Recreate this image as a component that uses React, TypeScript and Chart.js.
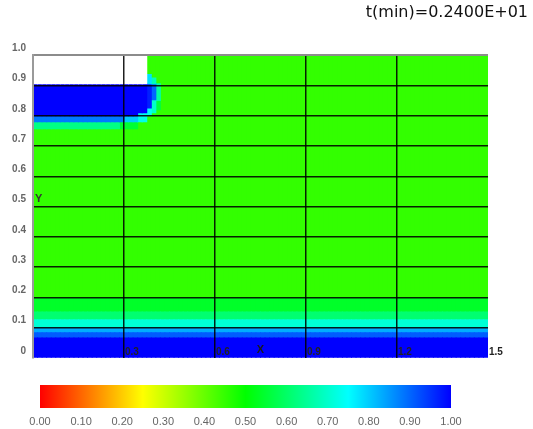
import React, { useEffect, useRef } from 'react';
import { Chart, registerables } from 'chart.js';

Chart.register(...registerables);

// ---------- text ----------
const timeTitle = 't(min)=0.2400E+01';
const xAxisTitle = 'X';
const yAxisTitle = 'Y';
const yAxisTitleValue = 0.5;

// ---------- axes ----------
const xMax = 1.5;
const xTickValues = [0, 0.3, 0.6, 0.9, 1.2, 1.5];
const xTickLabels = ['', '0.3', '0.6', '0.9', '1.2', '1.5'];
const yTickValues = [0, 0.1, 0.2, 0.3, 0.4, 0.5, 0.6, 0.7, 0.8, 0.9, 1.0];
const yTickLabels = ['0', '0.1', '0.2', '0.3', '0.4', '0.5', '0.6', '0.7', '0.8', '0.9', '1.0'];
const colorbarTickValues = [0, 0.1, 0.2, 0.3, 0.4, 0.5, 0.6, 0.7, 0.8, 0.9, 1.0];
const colorbarTickLabels = ['0.00', '0.10', '0.20', '0.30', '0.40', '0.50', '0.60', '0.70', '0.80', '0.90', '1.00'];
const colorbarStops = [0, 0.25, 0.5, 0.75, 1];

// ---------- field (fluid fraction) ----------
const columnCount = 100; // field columns across 0..xMax

// horizontal layers spanning the full width
const bandBottom = [0, 0.066, 0.083, 0.099, 0.126, 0.152, 0.198];
const bandTop = [0.066, 0.083, 0.099, 0.126, 0.152, 0.198, 1.0];
const bandValue = [1.0, 0.91, 0.83, 0.71, 0.61, 0.54, 0.45];

// local patches near the top-left (null = empty / white)
const patchX0 = [0, 0, 0.345, 0, 0.3, 0.345, 0, 0.285, 0.375, 0.39, 0.375, 0.375, 0.39, 0.39, 0.405, 0.405];
const patchX1 = [0.375, 0.345, 0.375, 0.3, 0.345, 0.375, 0.285, 0.345, 0.39, 0.405, 0.39, 0.39, 0.405, 0.405, 0.42, 0.42];
const patchY0 = [0.906, 0.8, 0.81, 0.78, 0.78, 0.78, 0.757, 0.757, 0.906, 0.906, 0.826, 0.8, 0.853, 0.81, 0.85, 0.82];
const patchY1 = [1.0, 0.906, 0.906, 0.8, 0.8, 0.81, 0.78, 0.78, 0.936, 0.925, 0.906, 0.826, 0.906, 0.853, 0.906, 0.85];
const patchValue: (number | null)[] = [null, 1.0, 1.0, 0.88, 0.8, 0.73, 0.63, 0.55, 0.78, 0.68, 0.97, 0.74, 0.9, 0.7, 0.66, 0.56];

const FONT = 'Liberation Sans, Arial, sans-serif';

function colorFor(v: number | null): string {
  if (v === null) return '#ffffff';
  return `hsl(${(240 * v).toFixed(1)}, 100%, 50%)`;
}

const near = (a: number | undefined, b: number) => a !== undefined && Math.abs(a - b) < 1e-6;

export default function App() {
  const mainRef = useRef<HTMLCanvasElement>(null);
  const barRef = useRef<HTMLCanvasElement>(null);

  useEffect(() => {
    if (!mainRef.current || !barRef.current) return;
    const colW = xMax / columnCount;
    const labels = Array.from({ length: columnCount }, (_, i) => String(i));
    const columnData = (x0: number, x1: number, y0: number, y1: number) =>
      labels.map((_, i) => {
        const a = i * colW;
        const b = (i + 1) * colW;
        return a >= x0 - 1e-9 && b <= x1 + 1e-9 ? [y0, y1] : null;
      });
    const common = {
      xAxisID: 'xc',
      yAxisID: 'y',
      barPercentage: 1,
      categoryPercentage: 1,
      grouped: false,
      borderWidth: 0,
      inflateAmount: 0.5,
    };
    const datasets: any[] = [];
    patchValue.forEach((v, k) => {
      datasets.push({
        ...common,
        order: 0,
        data: columnData(patchX0[k], patchX1[k], patchY0[k], patchY1[k]),
        backgroundColor: colorFor(v),
      });
    });
    bandValue.forEach((v, k) => {
      datasets.push({
        ...common,
        order: 1,
        data: columnData(0, xMax, bandBottom[k], bandTop[k]),
        backgroundColor: colorFor(v),
      });
    });

    const tickFont = { family: FONT, size: 10, weight: 'bold' as const };

    const main = new Chart(mainRef.current, {
      type: 'bar',
      data: { labels, datasets },
      options: {
        animation: false,
        responsive: false,
        layout: { padding: { left: 0, right: 5, top: 0, bottom: 0 } },
        plugins: {
          legend: { display: false },
          tooltip: { enabled: false },
          title: {
            display: true,
            text: timeTitle,
            align: 'end',
            color: '#111',
            font: { family: 'DejaVu Sans, sans-serif', size: 16, weight: 'normal' },
            padding: { top: 3, bottom: 33 },
          },
        },
        scales: {
          xc: { type: 'category', display: false, offset: true, grid: { offset: true } },
          x: {
            type: 'linear',
            position: 'bottom',
            min: 0,
            max: xMax,
            offset: false,
            afterBuildTicks: (s: any) => {
              s.ticks = xTickValues.map((value) => ({ value }));
            },
            afterFit: (s: any) => {
              s.height = 17;
            },
            grid: {
              offset: false,
              drawTicks: false,
              lineWidth: 1.5,
              z: 1,
              color: (c: any) =>
                near(c.tick?.value, 0) || near(c.tick?.value, xMax) ? 'rgba(0,0,0,0)' : 'rgba(0,0,0,0.88)',
            },
            border: { display: false },
            ticks: {
              autoSkip: false,
              maxRotation: 0,
              align: 'start',
              mirror: true,
              padding: 0,
              labelOffset: 1,
              font: tickFont,
              color: '#222',
              z: 2,
              callback: (_v: any, i: number) => xTickLabels[i] ?? '',
            },
            title: {
              display: true,
              text: xAxisTitle,
              color: '#1a1a1a',
              font: { family: FONT, size: 11, weight: 'bold' },
              padding: { top: 0, bottom: 18 },
            },
          },
          y: {
            type: 'linear',
            position: 'left',
            min: 0,
            max: 1,
            afterBuildTicks: (s: any) => {
              s.ticks = yTickValues.map((value) => ({ value }));
            },
            afterFit: (s: any) => {
              s.width = 33;
            },
            grid: {
              drawTicks: false,
              lineWidth: (c: any) => (near(c.tick?.value, 1) ? 2 : 1.5),
              z: 1,
              color: (c: any) =>
                near(c.tick?.value, 0) ? 'rgba(0,0,0,0)' : near(c.tick?.value, 1) ? '#8c8c8c' : 'rgba(0,0,0,0.88)',
            },
            border: { display: true, color: '#9a9a9a', width: 2, z: 2 },
            ticks: {
              padding: 7,
              labelOffset: -7,
              font: tickFont,
              color: '#666',
              z: 2,
              callback: (_v: any, i: number) => yTickLabels[i] ?? '',
            },
          },
          yt: {
            type: 'linear',
            position: 'left',
            weight: -1,
            min: 0,
            max: 1,
            afterBuildTicks: (s: any) => {
              s.ticks = [{ value: yAxisTitleValue }];
            },
            afterFit: (s: any) => {
              s.width = 0;
            },
            grid: { display: false },
            border: { display: false },
            ticks: {
              mirror: true,
              padding: 2,
              labelOffset: -8,
              font: { family: FONT, size: 11, weight: 'bold' },
              color: '#333',
              z: 2,
              callback: () => yAxisTitle,
            },
          },
          yr: {
            type: 'linear',
            position: 'right',
            min: 0,
            max: 1,
            grid: { display: false },
            border: { display: false },
            ticks: { display: false },
            afterFit: (s: any) => {
              s.width = 40;
            },
          },
        },
      } as any,
    });

    const bar = new Chart(barRef.current, {
      type: 'bar',
      data: {
        labels: [''],
        datasets: [
          {
            data: [[0, 1]] as any,
            borderWidth: 0,
            barPercentage: 1,
            categoryPercentage: 1,
            backgroundColor: (c: any) => {
              const chart = c.chart;
              const area = chart.chartArea;
              if (!area) return 'rgba(0,0,0,0)';
              const xs = chart.scales.x;
              const g = chart.ctx.createLinearGradient(xs.getPixelForValue(0), 0, xs.getPixelForValue(1), 0);
              colorbarStops.forEach((v) => g.addColorStop(v, colorFor(v)));
              return g;
            },
          },
        ],
      },
      options: {
        indexAxis: 'y',
        animation: false,
        responsive: false,
        layout: { padding: { left: 40, right: 82, top: 10, bottom: 0 } },
        plugins: { legend: { display: false }, tooltip: { enabled: false } },
        scales: {
          x: {
            type: 'linear',
            min: 0,
            max: 1,
            afterBuildTicks: (s: any) => {
              s.ticks = colorbarTickValues.map((value) => ({ value }));
            },
            afterFit: (s: any) => {
              s.height = 21;
            },
            grid: { display: false },
            border: { display: false },
            ticks: {
              padding: -1,
              autoSkip: false,
              maxRotation: 0,
              font: { family: FONT, size: 11 },
              color: '#666',
              callback: (_v: any, i: number) => colorbarTickLabels[i] ?? '',
            },
          },
          y: { type: 'category', display: false },
        },
      } as any,
    });

    return () => {
      main.destroy();
      bar.destroy();
    };
  }, []);

  return (
    <div style={{ position: 'absolute', left: 0, top: 0, width: 533, height: 429, background: '#ffffff' }}>
      <canvas ref={mainRef} width={533} height={375} style={{ position: 'absolute', left: 0, top: 0 }} />
      <canvas ref={barRef} width={533} height={54} style={{ position: 'absolute', left: 0, top: 375 }} />
    </div>
  );
}
